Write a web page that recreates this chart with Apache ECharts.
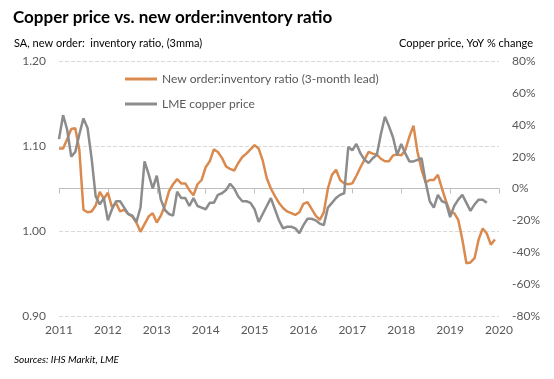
<!DOCTYPE html>
<html><head><meta charset="utf-8">
<script src="https://cdn.jsdelivr.net/npm/echarts@6/dist/echarts.min.js"></script>
<style>html,body{margin:0;padding:0;background:#fff}#c{width:554px;height:379px}</style>
</head><body><div id="c"></div>
<script>
// Months since Jan 2011
const startYear = 2011;
const yearTicks = ['2011','2012','2013','2014','2015','2016','2017','2018','2019','2020'];
const ratioLabels = ['0.90','1.00','1.10','1.20'];
const pctLabels = ['-80%','-60%','-40%','-20%','0%','20%','40%','60%','80%'];

// New order:inventory ratio (3-month lead), monthly from Jan 2011
const ratio = [1.097,1.097,1.108,1.120,1.121,1.095,1.025,1.022,1.023,1.030,1.046,1.038,
1.045,1.028,1.033,1.023,1.025,1.020,1.017,1.010,0.999,1.008,1.017,1.021,
1.010,1.018,1.030,1.047,1.055,1.061,1.056,1.056,1.048,1.042,1.055,1.060,
1.075,1.082,1.096,1.093,1.086,1.076,1.073,1.071,1.080,1.087,1.091,1.096,
1.101,1.097,1.083,1.062,1.050,1.041,1.033,1.027,1.023,1.021,1.019,1.022,
1.032,1.034,1.026,1.018,1.013,1.022,1.050,1.066,1.072,1.060,1.056,1.055,
1.056,1.065,1.075,1.084,1.093,1.091,1.090,1.085,1.082,1.082,1.089,1.090,
1.089,1.095,1.111,1.124,1.093,1.072,1.057,1.060,1.060,1.066,1.050,1.035,
1.022,1.021,1.013,0.990,0.962,0.963,0.968,0.990,1.003,0.997,0.984,0.990];

// LME copper price, YoY % change, monthly from Jan 2011
const copper = [31,46,37,20,23,34,44,38,19,-5,-10,-6,
-20,-13,-8,-8,-12,-16,-17,-21,-12,17,9,0,
8,-7,-13.5,-16,-17,-2,-6,-6,-11,-6,-11,-12,
-13,-9,-9,-4,-3,-1,3,0,-5,-8,-8,-9,
-13,-21,-16,-11,-6,-13,-20,-25,-24,-24,-25,-28,
-23,-19,-19,-20,-22,-23,-12,-9,-6,-4,-3,26,
24,28,22,18,16,19,21,34,45,39,32,21,
28,22,17,17,18,19,4,-8,-12,-4,-8,-9,
-18,-11,-7,-4,-9,-14,-10,-7,-7,-9];

const ratioData = ratio.map((v,i)=>[i,v]);
const copperData = copper.map((v,i)=>[i,v]);

const FONT = 'Lato, "Open Sans", sans-serif';
const TXT = '#595959';
const chart = echarts.init(document.getElementById('c'));
chart.setOption({
  animation:false,
  textStyle:{fontFamily:FONT},
  title:[
    {text:'Copper price vs. new order:inventory ratio',left:8,top:4,textStyle:{fontFamily:FONT,fontSize:17,fontWeight:'bold',color:'#000'}},
    {text:'SA, new order:  inventory ratio, (3mma)',left:9,top:33,textStyle:{fontFamily:FONT,fontSize:11,fontWeight:'normal',color:'#000'}},
    {text:'Copper price, YoY % change',right:16,top:33,textStyle:{fontFamily:FONT,fontSize:11,fontWeight:'normal',color:'#000'}},
    {text:'Sources: IHS Markit, LME',left:9,top:350,textStyle:{fontFamily:FONT,fontSize:10,fontStyle:'italic',fontWeight:'normal',color:'#000'}}
  ],
  legend:{
    orient:'vertical',left:120,top:68,itemGap:13,itemWidth:32,itemHeight:3,
    icon:'rect',
    textStyle:{fontFamily:FONT,fontSize:12,color:TXT},
    data:['New order:inventory ratio (3-month lead)','LME copper price']
  },
  grid:{left:59,right:55,top:61,bottom:63,containLabel:false},
  xAxis:{
    type:'value',min:0,max:108,interval:12,
    axisLine:{show:true,lineStyle:{color:'#bfbfbf',width:1}},
    axisTick:{show:true,length:5,lineStyle:{color:'#bfbfbf'}},
    splitLine:{show:false},
    axisLabel:{color:TXT,fontSize:12,fontFamily:FONT,margin:8,
      formatter:v=>yearTicks[Math.round(v/12)]}
  },
  yAxis:[
    {type:'value',min:0.9,max:1.2,interval:0.1,position:'left',
     axisLine:{show:false},axisTick:{show:false},
     splitLine:{show:true,lineStyle:{color:'#d9d9d9',type:'dashed',width:1}},
     axisLabel:{color:TXT,fontSize:12,fontFamily:FONT,margin:13,
       formatter:v=>ratioLabels[Math.round((v-0.9)/0.1)]}},
    {type:'value',min:-80,max:80,interval:20,position:'right',
     axisLine:{show:false},axisTick:{show:false},splitLine:{show:false},
     axisLabel:{color:TXT,fontSize:12,fontFamily:FONT,margin:13,
       formatter:v=>pctLabels[Math.round((v+80)/20)]}}
  ],
  series:[
    {name:'New order:inventory ratio (3-month lead)',type:'line',yAxisIndex:0,data:ratioData,
     showSymbol:false,symbol:'none',lineStyle:{color:'#DA8A4E',width:2.5},itemStyle:{color:'#DA8A4E'},z:2},
    {name:'LME copper price',type:'line',yAxisIndex:1,data:copperData,
     showSymbol:false,symbol:'none',lineStyle:{color:'#8C8C8C',width:2.5},itemStyle:{color:'#8C8C8C'},z:3}
  ]
});
</script></body></html>
